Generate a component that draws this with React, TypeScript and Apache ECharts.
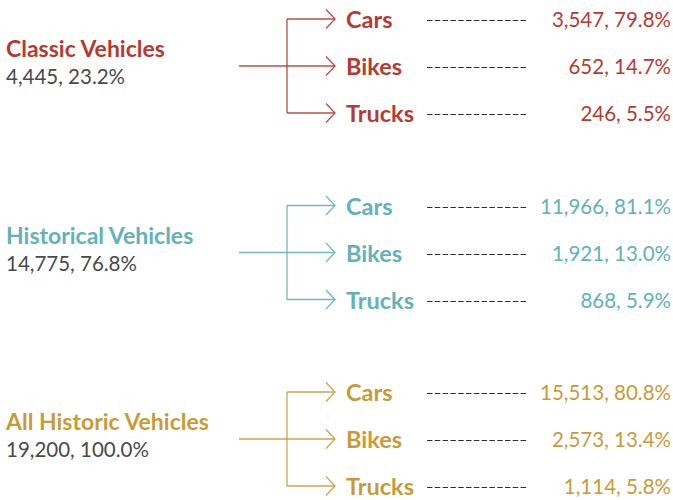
import React, { useEffect, useRef } from "react";
import * as echarts from "echarts";

const groupNames = ["Classic Vehicles", "Historical Vehicles", "All Historic Vehicles"];
const groupTotals = [4445, 14775, 19200];
const groupShares = [23.2, 76.8, 100.0];
const groupColors = ["#b63a32", "#62b2b8", "#c99b38"];
const types = ["Cars", "Bikes", "Trucks"];
const classicValues = [3547, 652, 246];
const classicShares = [79.8, 14.7, 5.5];
const historicalValues = [11966, 1921, 868];
const historicalShares = [81.1, 13.0, 5.9];
const allValues = [15513, 2573, 1114];
const allShares = [80.8, 13.4, 5.8];

const typeValues = [classicValues, historicalValues, allValues];
const typeShares = [classicShares, historicalShares, allShares];

const FONT = "Lato, 'DejaVu Sans', sans-serif";

function fmt(v: number, s: number) {
  return v.toLocaleString("en-US") + ", " + s.toFixed(1) + "%";
}

export default function App() {
  const ref = useRef<HTMLDivElement>(null);
  useEffect(() => {
    document.body.style.margin = "0";
    const chart = echarts.init(ref.current!, null, { renderer: "svg" });
    const elements: any[] = [];
    const firstTop = 19;
    const groupStep = 186.5;
    const branchStep = 47;
    const inX = 239;
    const stemX = 287;
    const tipX = 335;
    groupNames.forEach((name, gi) => {
      const color = groupColors[gi];
      const top = firstTop + gi * groupStep;
      const mid = top + branchStep;
      const bottom = top + 2 * branchStep;
      const lineStyle = { stroke: color, lineWidth: 1.3, opacity: 0.9 };
      elements.push({
        type: "text",
        x: 6,
        y: mid - 18,
        style: {
          text: name,
          fill: color,
          font: `bold 23px ${FONT}`,
          textVerticalAlign: "middle",
        },
      });
      elements.push({
        type: "text",
        x: 6,
        y: mid + 10,
        style: {
          text: fmt(groupTotals[gi], groupShares[gi]),
          fill: "#4a4a4a",
          font: `20.5px ${FONT}`,
          textVerticalAlign: "middle",
        },
      });
      elements.push({
        type: "line",
        shape: { x1: inX, y1: mid, x2: stemX, y2: mid },
        style: lineStyle,
      });
      elements.push({
        type: "line",
        shape: { x1: stemX, y1: top, x2: stemX, y2: bottom },
        style: lineStyle,
      });
      types.forEach((t, ti) => {
        const y = top + ti * branchStep;
        elements.push({
          type: "line",
          shape: { x1: stemX, y1: y, x2: tipX, y2: y },
          style: lineStyle,
        });
        elements.push({
          type: "polyline",
          shape: {
            points: [
              [tipX - 9, y - 9.5],
              [tipX, y],
              [tipX - 9, y + 9.5],
            ],
          },
          style: { ...lineStyle, fill: "none" },
        });
        elements.push({
          type: "text",
          x: 346,
          y: y,
          style: {
            text: t,
            fill: color,
            font: `bold 23.5px ${FONT}`,
            textVerticalAlign: "middle",
          },
        });
        elements.push({
          type: "line",
          shape: { x1: 427, y1: Math.round(y) + 1.5, x2: 528, y2: Math.round(y) + 1.5 },
          style: { stroke: "#2e2e2e", lineWidth: 1, lineDash: [5.5, 2.3] },
        });
        elements.push({
          type: "text",
          x: 671,
          y: y,
          style: {
            text: fmt(typeValues[gi][ti], typeShares[gi][ti]),
            fill: color,
            font: `20.5px ${FONT}`,
            textAlign: "right",
            textVerticalAlign: "middle",
          },
        });
      });
    });
    chart.setOption({
      animation: false,
      backgroundColor: "#ffffff",
      graphic: { elements },
    });
    return () => chart.dispose();
  }, []);
  return <div ref={ref} style={{ width: 673, height: 500 }} />;
}
